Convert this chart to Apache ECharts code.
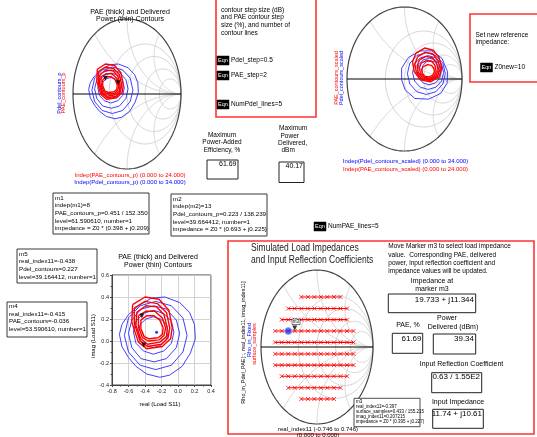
<!DOCTYPE html>
<html><head><meta charset="utf-8">
<script src="https://cdn.jsdelivr.net/npm/echarts@6/dist/echarts.min.js"></script>
<style>html,body{margin:0;padding:0;background:#fff}#c{width:537px;height:437px}</style>
</head><body><div id="c"></div>
<script>
const FONT = "'Liberation Sans',Arial,sans-serif";

// ---- data (reflection-coefficient plane: [real, imag]) ----
// PAE contours (levels 53.59 ... 61.59 %), outer to inner
const paeContours = [
  [[-0.55,0.33],[-0.40,0.40],[-0.23,0.38],[-0.11,0.28],[-0.07,0.12],[-0.09,0.02],[-0.19,-0.05],[-0.38,-0.07],[-0.48,-0.01],[-0.56,0.17]],
  [[-0.53,0.30],[-0.40,0.36],[-0.25,0.34],[-0.14,0.26],[-0.10,0.12],[-0.12,0.03],[-0.20,-0.03],[-0.37,-0.05],[-0.46,0.00],[-0.53,0.16]],
  [[-0.50,0.26],[-0.39,0.32],[-0.26,0.31],[-0.17,0.24],[-0.13,0.12],[-0.14,0.04],[-0.22,-0.01],[-0.37,-0.03],[-0.45,0.02],[-0.51,0.14]],
  [[-0.48,0.23],[-0.39,0.27],[-0.28,0.27],[-0.19,0.21],[-0.15,0.12],[-0.17,0.05],[-0.23,0.01],[-0.36,0.00],[-0.43,0.03],[-0.48,0.13]],
  [[-0.45,0.19],[-0.38,0.23],[-0.29,0.23],[-0.22,0.19],[-0.18,0.12],[-0.19,0.06],[-0.24,0.03],[-0.35,0.02],[-0.41,0.04],[-0.45,0.11]]
];
// Delivered power contours (levels 37.67 ... 39.67 dBm), outer to inner
const pdelContours = [
  [[-0.32,0.39],[-0.16,0.40],[0.02,0.35],[0.14,0.26],[0.20,0.15],[0.21,0.02],[0.15,-0.11],[0.05,-0.23],[-0.10,-0.31],[-0.22,-0.33],[-0.38,-0.30],[-0.51,-0.23],[-0.60,-0.15],[-0.68,-0.05],[-0.71,0.06],[-0.68,0.15],[-0.60,0.24],[-0.46,0.33]],
  [[-0.27,0.36],[-0.08,0.32],[0.06,0.21],[0.11,0.05],[0.06,-0.10],[-0.08,-0.22],[-0.27,-0.26],[-0.46,-0.22],[-0.60,-0.10],[-0.65,0.05],[-0.60,0.21],[-0.46,0.32]],
  [[-0.29,0.32],[-0.14,0.29],[-0.02,0.19],[0.02,0.07],[-0.02,-0.06],[-0.14,-0.16],[-0.29,-0.19],[-0.45,-0.16],[-0.56,-0.06],[-0.60,0.07],[-0.56,0.19],[-0.45,0.29]],
  [[-0.30,0.28],[-0.17,0.25],[-0.08,0.18],[-0.05,0.08],[-0.08,-0.02],[-0.17,-0.09],[-0.30,-0.12],[-0.42,-0.09],[-0.51,-0.02],[-0.54,0.08],[-0.51,0.18],[-0.42,0.25]],
  [[-0.30,0.22],[-0.21,0.20],[-0.14,0.15],[-0.12,0.08],[-0.14,0.01],[-0.21,-0.04],[-0.30,-0.06],[-0.39,-0.04],[-0.46,0.01],[-0.48,0.08],[-0.46,0.15],[-0.39,0.20]]
];
// Same contours re-referenced to Z0new = 10 ohm
const paeScaled = [
  [[0.20,0.36],[0.35,0.43],[0.50,0.40],[0.60,0.30],[0.65,0.15],[0.60,0.03],[0.45,-0.04],[0.28,-0.01],[0.17,0.10],[0.14,0.24]],
  [[0.23,0.31],[0.36,0.37],[0.49,0.35],[0.58,0.26],[0.62,0.14],[0.57,0.035],[0.44,-0.02],[0.30,0.00],[0.205,0.095],[0.18,0.21]],
  [[0.26,0.265],[0.375,0.315],[0.485,0.295],[0.555,0.225],[0.585,0.125],[0.545,0.04],[0.435,-0.005],[0.315,0.015],[0.24,0.09],[0.22,0.185]],
  [[0.29,0.22],[0.39,0.26],[0.48,0.24],[0.53,0.19],[0.55,0.11],[0.52,0.045],[0.43,0.01],[0.33,0.03],[0.275,0.085],[0.26,0.16]],
  [[0.32,0.17],[0.40,0.20],[0.47,0.19],[0.51,0.15],[0.52,0.10],[0.49,0.05],[0.42,0.03],[0.35,0.04],[0.31,0.08],[0.30,0.13]]
];
const pdelScaled = [
  [[-0.05,0.15],[0.07,0.30],[0.27,0.39],[0.475,0.39],[0.65,0.29],[0.75,0.10],[0.74,-0.06],[0.63,-0.20],[0.42,-0.28],[0.18,-0.27],[0.01,-0.15],[-0.05,-0.01]],
  [[0.38,0.365],[0.545,0.327],[0.667,0.22],[0.71,0.075],[0.667,-0.07],[0.545,-0.177],[0.38,-0.215],[0.215,-0.177],[0.093,-0.07],[0.05,0.075],[0.093,0.22],[0.215,0.327]],
  [[0.41,0.325],[0.545,0.294],[0.645,0.208],[0.68,0.09],[0.645,-0.028],[0.545,-0.114],[0.41,-0.145],[0.275,-0.114],[0.175,-0.028],[0.14,0.09],[0.175,0.208],[0.275,0.294]],
  [[0.43,0.29],[0.535,0.266],[0.613,0.198],[0.64,0.105],[0.613,0.013],[0.535,-0.056],[0.43,-0.08],[0.325,-0.056],[0.247,0.013],[0.22,0.105],[0.247,0.198],[0.325,0.266]],
  [[0.45,0.255],[0.525,0.237],[0.58,0.188],[0.60,0.12],[0.58,0.053],[0.525,0.003],[0.45,-0.015],[0.375,0.003],[0.32,0.053],[0.30,0.12],[0.32,0.188],[0.375,0.237]]
];
// markers
const markersTL = [[-0.400,0.209],[-0.166,0.149]];     // m1, m2
const markersRect = [[-0.438,0.227],[-0.415,-0.036]];  // m5, m4
const optRect = [[-0.26,0.08]];
const markerM3 = [[-0.397,0.207]];
const rhoIn = [[-0.513,0.207]];
// load-pull surface samples (rows of constant imag)
const sampleReal = [-0.746,-0.630,-0.513,-0.397,-0.280,-0.164,-0.047,0.069,0.186,0.302,0.419,0.535,0.652];
const sampleImag = [0.650,0.500,0.355,0.207,0.060,-0.090,-0.235,-0.380,-0.530,-0.675];
const sampleSpan = [[4,10],[2,11],[1,11],[0,12],[0,12],[0,12],[0,12],[1,11],[2,10],[4,9]];
// Smith grid values and rectangular-axis ticks
const smithR = [0.5, 1, 2, 4];
const smithX = [0.5, 1, 2];
const rectX = [-0.8, 0.4, 0.2];
const rectY = [-0.4, 0.6, 0.2];

// ---------------------------------------------------------------
const chart = echarts.init(document.getElementById('c'), null, {renderer:'canvas'});

function smithSeries(gi){
  const data = [];
  smithR.forEach(r => data.push([0, r]));
  smithX.forEach(x => { data.push([1, x]); data.push([1, -x]); });
  data.push([2, 0]); data.push([3, 0]);
  return {
    type:'custom', xAxisIndex:gi, yAxisIndex:gi, z:1, silent:true, clip:false, data,
    renderItem(params, api){
      const k = api.value(0), p = api.value(1), pts = [];
      let stroke = '#cfcfcf', lw = 0.9;
      if (k === 0) {
        const c = p/(1+p), rad = 1/(1+p);
        for (let i=0;i<=120;i++){ const t=i/120*2*Math.PI; pts.push(api.coord([c+rad*Math.cos(t), rad*Math.sin(t)])); }
      } else if (k === 1) {
        const R = 1/Math.abs(p), sg = p>0?1:-1;
        for (let i=0;i<=400;i++){
          const s=i/400*Math.PI, x=1-R*Math.sin(s), y=sg*(R-R*Math.cos(s));
          if (x*x+y*y>1+1e-9) break;
          pts.push(api.coord([x,y]));
        }
        pts.push(api.coord([(p*p-1)/(p*p+1), 2*p/(p*p+1)]));
      } else if (k === 2) {
        for (let i=0;i<=160;i++){ const t=i/160*2*Math.PI; pts.push(api.coord([Math.cos(t), Math.sin(t)])); }
        stroke = '#444'; lw = 1.2;
      } else {
        pts.push(api.coord([-1,0])); pts.push(api.coord([1,0]));
        stroke = '#000'; lw = 1;
      }
      return {type:'polyline', shape:{points:pts}, style:{stroke, lineWidth:lw, fill:null}, silent:true};
    }
  };
}
function contourSeries(list, gi, color, width, z){
  return list.map(c => ({type:'line', xAxisIndex:gi, yAxisIndex:gi, data:c.concat([c[0]]), symbol:'none',
    lineStyle:{color, width}, z, silent:true}));
}

const grids = [
  {left:73, top:19, width:108, height:150},
  {left:347, top:7, width:115, height:144},
  {left:112, top:275, width:99, height:110, show:true, borderColor:'#444', borderWidth:1, backgroundColor:'#fff'},
  {left:261, top:270, width:112, height:154}
];
const smithAxis = i => ({type:'value', gridIndex:i, min:-1, max:1, show:false});
const lblFmt = v => (Math.abs(v)<1e-9?0:v).toFixed(1);
const rectAxis = (i, t) => ({type:'value', gridIndex:i, min:t[0], max:t[1], interval:t[2],
   axisLine:{show:true, onZero:false, lineStyle:{color:'#444'}}, axisTick:{show:true, length:2, lineStyle:{color:'#444'}},
   minorTick:{show:true, splitNumber:2, length:1.5, lineStyle:{color:'#444'}},
   splitLine:{show:true, lineStyle:{color:'#c8c8c8', width:0.8}},
   axisLabel:{fontSize:5.5, color:'#222', margin:3, fontFamily:FONT, formatter:lblFmt, showMinLabel:true, showMaxLabel:true}});
const xAxes = [smithAxis(0), smithAxis(1), rectAxis(2, rectX), smithAxis(3)];
const yAxes = [smithAxis(0), smithAxis(1), rectAxis(2, rectY), smithAxis(3)];

const BLUE = '#2a2aff', RED = '#ff0000';
let series = [smithSeries(0), smithSeries(1), smithSeries(3)];
series = series.concat(
  contourSeries(pdelContours, 0, BLUE, 0.9, 3), contourSeries(paeContours, 0, RED, 1.4, 4),
  contourSeries(pdelScaled, 1, BLUE, 0.9, 3), contourSeries(paeScaled, 1, RED, 1.4, 4),
  contourSeries(pdelContours, 2, BLUE, 0.9, 3), contourSeries(paeContours, 2, RED, 1.4, 4)
);
const tri = {type:'scatter', symbol:'triangle', symbolRotate:180, symbolSize:5, itemStyle:{color:'#000'}, z:6, silent:true};
series.push(Object.assign({}, tri, {xAxisIndex:0, yAxisIndex:0, data:markersTL}));
series.push(Object.assign({}, tri, {xAxisIndex:2, yAxisIndex:2, data:markersRect}));
series.push({type:'scatter', xAxisIndex:2, yAxisIndex:2, data:optRect, symbol:'circle', symbolSize:3, itemStyle:{color:'#00f'}, z:6, silent:true});
sampleImag.forEach((im, i) => {
  const [a, b] = sampleSpan[i];
  series.push({type:'line', xAxisIndex:3, yAxisIndex:3, z:4, silent:true,
    data: sampleReal.slice(a, b+1).map(re => [re, im]),
    symbol:'path://M0,0L10,10M10,0L0,10', symbolSize:4, showSymbol:true,
    lineStyle:{color:RED, width:1.1}, itemStyle:{color:RED, borderColor:RED, borderWidth:0.8}});
});
series.push({type:'scatter', xAxisIndex:3, yAxisIndex:3, data:rhoIn, symbol:'circle', symbolSize:7,
  itemStyle:{color:'#1f3cff', borderColor:'#9aa8ff', borderWidth:1}, z:7, silent:true});
series.push(Object.assign({}, tri, {xAxisIndex:3, yAxisIndex:3, data:markerM3, symbolOffset:[0,-3], z:8}));

// ---- graphic texts and boxes ----
const g = [];
function txt(x, y, s, o){ o = o || {};
  const al = o.align || 'left';
  g.push({type:'text', x, y, rotation:o.rot||0, scaleX:o.sx||1, z:20, silent:true,
    style:{text:s, fontSize:o.size||6.5, fontFamily:FONT, fill:o.color||'#000',
      align:al, textAlign:al, verticalAlign:'middle', textVerticalAlign:'middle'}});
}
function box(x, y, w, h, o){ o = o || {};
  g.push({type:'rect', z:15, silent:true, shape:{x, y, width:w, height:h},
    style:{fill:o.fill||'none', stroke:o.stroke||'#222', lineWidth:o.lw||1}});
}
function eqn(x, y, label){
  box(x, y-4.5, 12, 9, {fill:'#000', stroke:'#000', lw:0.5});
  txt(x+6, y, 'Eqn', {color:'#fff', size:5.5, align:'center'});
  txt(x+14, y, label, {size:6.5});
}
function lines(x, y0, dy, arr, size){ arr.forEach((s,i) => txt(x, y0+i*dy, s, {size:size||6.2})); }
const ROT = Math.PI/2;

// top-left Smith chart labels
txt(130, 12.5, 'PAE (thick) and Delivered', {align:'center', size:7});
txt(130, 19.5, 'Power (thin) Contours', {align:'center', size:7});
txt(59.5, 93, 'Pdel_contours_p', {rot:ROT, align:'center', color:'#00f', size:5.5});
txt(63.8, 93, 'PAE_contours_p', {rot:ROT, align:'center', color:'#f00', size:5.5});
txt(130, 175.5, 'Indep(PAE_contours_p) (0.000 to 24.000)', {align:'center', color:'#f00', size:6});
txt(130, 182.5, 'Indep(Pdel_contours_p) (0.000 to 34.000)', {align:'center', color:'#00f', size:6});

// step-size box
box(216, -5, 100, 122, {stroke:'#f33', lw:1.6});
lines(221, 10, 7.7, ['contour step size (dB)', 'and PAE contour step', 'size (%), and number of', 'contour lines'], 6.5);
eqn(217, 60.5, 'Pdel_step=0.5');
eqn(217, 75.5, 'PAE_step=2');
eqn(217, 104.5, 'NumPdel_lines=5');

// maxima
txt(222, 135, 'Maximum', {align:'center'});
txt(222, 142.7, 'Power-Added', {align:'center'});
txt(222, 150, 'Efficiency, %', {align:'center'});
box(207, 160, 31, 19);
txt(236.5, 164, '61.69', {align:'right', size:7});
txt(279, 128.3, 'Maximum');
txt(280.5, 136, 'Power');
txt(278, 143.3, 'Delivered,');
txt(281.5, 150.7, 'dBm');
box(279, 162, 25, 20.5);
txt(303, 166, '40.17', {align:'right', size:7});

// top-right Smith chart labels
txt(336, 78, 'PAE_contours_scaled', {rot:ROT, align:'center', color:'#f00', size:5.5});
txt(341, 78, 'Pdel_contours_scaled', {rot:ROT, align:'center', color:'#00f', size:5.5});
txt(405.5, 161.7, 'Indep(Pdel_contours_scaled) (0.000 to 34.000)', {align:'center', color:'#00f', size:6});
txt(405.5, 169, 'Indep(PAE_contours_scaled) (0.000 to 24.000)', {align:'center', color:'#f00', size:6});
box(470, 14, 80, 68, {stroke:'#f33', lw:1.6});
txt(475.5, 35, 'Set new reference');
txt(475.5, 42.5, 'impedance:');
eqn(480.5, 67.5, 'Z0new=10');

// marker readouts
box(53, 193, 96, 41, {lw:0.9});
lines(55, 198, 7.6, ['m1', 'indep(m1)=8', 'PAE_contours_p=0.451 / 152.350', 'level=61.590610, number=1', 'impedance = Z0 * (0.398 + j0.209)']);
box(171, 194, 96, 42, {lw:0.9});
lines(173, 199, 7.6, ['m2', 'indep(m2)=13', 'Pdel_contours_p=0.223 / 138.239', 'level=39.664412, number=1', 'impedance = Z0 * (0.693 + j0.225)']);
eqn(314, 226.5, 'NumPAE_lines=5');
box(17, 249, 80, 34, {lw:0.9});
lines(19, 254, 7.7, ['m5', 'real_index11=-0.438', 'Pdel_contours=0.227', 'level=39.164412, number=1']);
box(7, 302, 80, 35, {lw:0.9});
lines(9, 306.5, 7.6, ['m4', 'real_index11=-0.415', 'PAE_contours=-0.036', 'level=53.590610, number=1']);

// rectangular plot labels
txt(158, 257.3, 'PAE (thick) and Delivered', {align:'center', size:7});
txt(158, 265, 'Power (thin) Contours', {align:'center', size:7});
txt(93, 336, 'imag (Load S11)', {rot:ROT, align:'center', size:6});
txt(160, 404.3, 'real (Load S11)', {align:'center', size:6});

// bottom-right panel
box(228, 241, 306, 193, {stroke:'#f33', lw:1.6});
txt(251, 248.3, 'Simulated Load Impedances', {size:10.5, color:'#222', sx:0.81});
txt(251, 260, 'and Input Reflection Coefficients', {size:10.5, color:'#222', sx:0.81});
lines(388.3, 246.7, 8.1, ['Move Marker m3 to select load impedance', 'value.  Corresponding PAE, delivered', 'power, input reflection coefficient and', 'impedance values will be updated.'], 6.5);
txt(432, 281, 'Impedance at', {align:'center', size:7});
txt(432, 289, 'marker m3', {align:'center', size:7});
box(388.3, 294, 87.4, 18.7);
txt(474, 299.3, '19.733 + j11.344', {align:'right', size:8});
txt(408, 325, 'PAE, %', {align:'center', size:7});
txt(447, 318.3, 'Power', {align:'center', size:7});
txt(453, 326.7, 'Delivered (dBm)', {align:'center', size:7});
box(392.3, 333.3, 30.4, 20);
txt(421.5, 338.7, '61.69', {align:'right', size:8});
box(433.3, 334, 42.4, 20);
txt(474, 338.7, '39.34', {align:'right', size:8});
txt(461.5, 364, 'Input Reflection Coefficient', {align:'center', size:7});
box(431.7, 372.7, 50, 20);
txt(480, 376.7, '0.63 / 1.55E2', {align:'right', size:8});
txt(458, 401.7, 'Input Impedance', {align:'center', size:7});
box(432.7, 409.3, 50.6, 19);
txt(482, 413.3, '11.74 + j10.61', {align:'right', size:8});
box(354, 398.3, 66, 28.4, {lw:0.8, fill:'#fff'});
lines(356, 401.7, 5, ['m3', 'real_index11=-0.397', 'surface_samples=0.433 / 155.215', 'imag_index11=0.207215', 'impedance = Z0 * (0.395 + j0.227)'], 4.5);
txt(318, 429.3, 'real_index11 (-0.746 to 0.746)', {align:'center', size:6});
txt(318, 435.5, '(0.000 to 0.000)', {align:'center', size:6});
txt(243, 342.5, 'Rho_in_Pdel_PAE[::, real_index11, imag_index11]', {rot:ROT, align:'center', size:5.5});
txt(249.5, 340, 'Rho_in_Fixed', {rot:ROT, align:'center', color:'#00f', size:5.5});
txt(254, 344, 'surface_samples', {rot:ROT, align:'center', color:'#f00', size:5.5});
box(292, 319, 8, 5.5, {lw:0.6, fill:'#fff'});
txt(296, 321.8, 'm3', {align:'center', size:4.5});

chart.setOption({
  animation:false,
  grid:grids, xAxis:xAxes, yAxis:yAxes,
  series,
  graphic:g
});
</script>
</body></html>
